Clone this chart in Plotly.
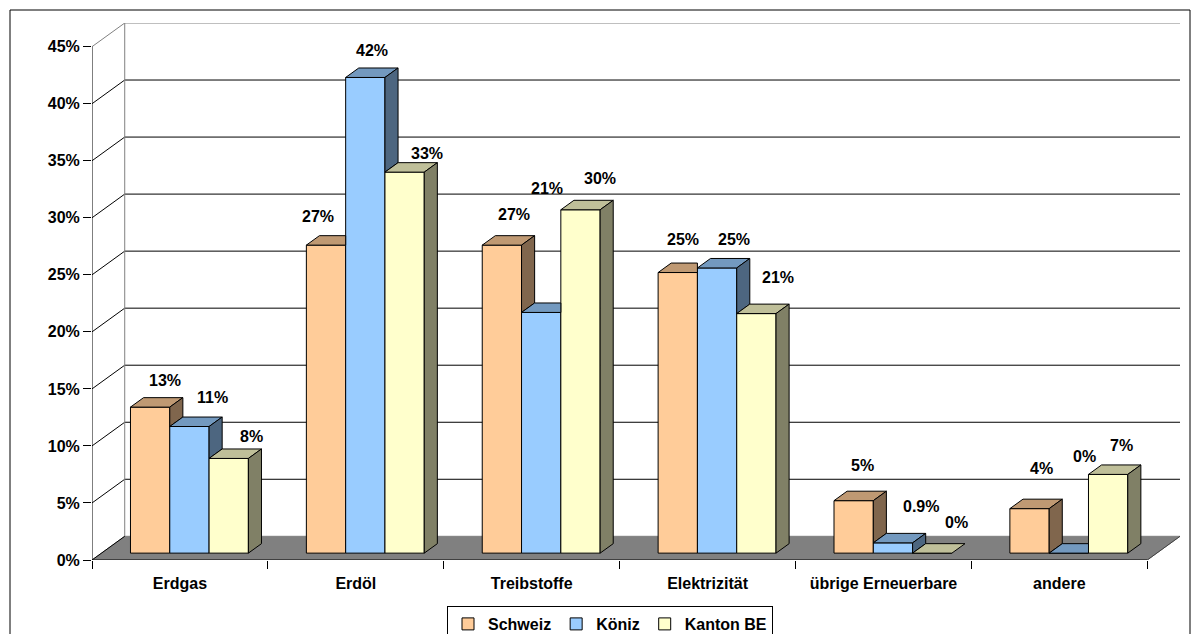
import plotly.graph_objects as go

# ---- data -------------------------------------------------------------
categories = ["Erdgas", "Erdöl", "Treibstoffe", "Elektrizität",
              "übrige Erneuerbare", "andere"]
series_names = ["Schweiz", "Köniz", "Kanton BE"]
schweiz = [12.8, 27.0, 27.0, 24.6, 4.6, 3.9]
koeniz = [11.1, 41.7, 21.1, 25.0, 0.9, 0.0]
kanton_be = [8.3, 33.4, 30.1, 21.0, 0.0, 6.9]
y_ticks = [0, 5, 10, 15, 20, 25, 30, 35, 40, 45]
y_tick_labels = [f"{v}%" for v in y_ticks]

series_values = [schweiz, koeniz, kanton_be]

# ---- styling ----------------------------------------------------------
front_colors = ["#FFCC99", "#99CCFF", "#FFFFCC"]
top_colors = ["#BF9973", "#7399BF", "#BFBF99"]
side_colors = ["#80664D", "#4D6680", "#808066"]
FONT = "Liberation Sans, Arial, sans-serif"
FS = 16

# pixel offsets (dx, dy) of each value label from its bar's front top centre
label_offsets = [
    [(15, 27), (-8, 29), (12, 31), (5, 33), (9, 35), (12, 40)],
    [(23, 29), (7, 27), (6, 124), (17, 28), (28, 36), (16, 97)],
    [(23, 22), (22, 19), (20, 31), (22, 36), (24, 31), (13, 29)],
]

# ---- geometry of the oblique 3-D frame --------------------------------
W, H = 1197, 634
M_L, M_R, M_T, M_B = 92, 17, 23, 74
plot_w = W - M_L - M_R
plot_h = H - M_T - M_B
px_x = 175.88          # pixels per category
px_y = 11.407          # pixels per percent
DX = plot_w / px_x - len(categories)   # depth shift in x units
DY = plot_h / px_y - 45                # depth shift in y units
F1, F2 = 0.29, 0.69                    # bar depth (front / back) in the box
BAR_W = 39.3 / px_x
n_cat = len(categories)

base = F1 * DY
sx = (F2 - F1) * DX
sy = (F2 - F1) * DY


def bar_center(i, j):
    return i + 0.5 + (j - 1) * BAR_W + F1 * DX


def fmt(v):
    return f"{v:.1f}%" if 0 < v < 1 else f"{v:.0f}%"


fig = go.Figure()

# front faces of the columns
for j, name in enumerate(series_names):
    fig.add_trace(go.Bar(
        name=name,
        x=[bar_center(i, j) for i in range(n_cat)],
        y=series_values[j],
        base=base,
        width=BAR_W,
        marker=dict(color=front_colors[j], line=dict(color="black", width=1)),
        hoverinfo="skip",
    ))

# top and side faces, trimmed where the neighbouring column hides them
for j in range(len(series_names)):
    tx, ty, qx, qy = [], [], [], []
    for i in range(n_cat):
        v = series_values[j][i]
        xl = bar_center(i, j) - BAR_W / 2
        xr = xl + BAR_W
        top = base + v
        nxt = series_values[j + 1][i] if j + 1 < len(series_names) else None
        if nxt is not None and nxt > v:
            tx += [xl, xr, xr, xl + sx, xl, None]
            ty += [top, top, top + sy, top + sy, top, None]
        else:
            tx += [xl, xr, xr + sx, xl + sx, xl, None]
            ty += [top, top, top + sy, top + sy, top, None]
            lo = base + (nxt if nxt is not None else 0)
            if v > 0:
                qx += [xr, xr, xr + sx, xr + sx, xr, None]
                qy += [lo, top, top + sy, lo + sy, lo, None]
    fig.add_trace(go.Scatter(x=tx, y=ty, mode="lines", fill="toself",
                             fillcolor=top_colors[j],
                             line=dict(color="black", width=1),
                             showlegend=False, hoverinfo="skip"))
    if qx:
        fig.add_trace(go.Scatter(x=qx, y=qy, mode="lines", fill="toself",
                                 fillcolor=side_colors[j],
                                 line=dict(color="black", width=1),
                                 showlegend=False, hoverinfo="skip"))

# value labels
for j in range(len(series_names)):
    for i in range(n_cat):
        v = series_values[j][i]
        dx, dy = label_offsets[j][i]
        fig.add_annotation(x=bar_center(i, j), y=base + v, text=fmt(v),
                           xshift=dx, yshift=dy, showarrow=False,
                           xanchor="center", yanchor="middle",
                           font=dict(family=FONT, size=FS, color="black",
                                     weight="bold"))

# walls, floor and gridlines
shapes = []
shapes.append(dict(type="path", layer="below",
                   path=f"M0,0 L{n_cat},0 L{n_cat + DX},{DY} L{DX},{DY} Z",
                   fillcolor="#808080", line=dict(color="#808080", width=1)))
for v in y_ticks[1:]:
    col = "#808080" if v == y_ticks[-1] else "#000000"
    shapes.append(dict(type="line", layer="below", x0=0, y0=v, x1=DX, y1=v + DY,
                       line=dict(color=col, width=1)))
    shapes.append(dict(type="line", layer="below", x0=DX, y0=v + DY,
                       x1=n_cat + DX, y1=v + DY, line=dict(color=col, width=1)))
shapes.append(dict(type="line", layer="below", x0=DX, y0=DY, x1=DX,
                   y1=y_ticks[-1] + DY, line=dict(color="#808080", width=1)))
shapes.append(dict(type="line", layer="below", x0=0, y0=0, x1=DX, y1=DY,
                   line=dict(color="#000000", width=1)))
shapes.append(dict(type="line", layer="below", x0=n_cat, y0=0, x1=n_cat + DX,
                   y1=DY, line=dict(color="#404040", width=1)))
# front axes
shapes.append(dict(type="line", layer="above", x0=0, y0=0, x1=0,
                   y1=y_ticks[-1], line=dict(color="black", width=1)))
shapes.append(dict(type="line", layer="above", x0=0, y0=0, x1=n_cat, y1=0,
                   line=dict(color="black", width=1)))
# chart border
shapes.append(dict(type="rect", xref="paper", yref="paper",
                   x0=(10 - M_L) / plot_w, x1=(1190 - M_L) / plot_w,
                   y0=-(H + 20 - M_T - plot_h) / plot_h,
                   y1=(M_T + plot_h - 10) / plot_h,
                   line=dict(color="black", width=1)))

fig.update_layout(
    width=W, height=H,
    margin=dict(l=M_L, r=M_R, t=M_T, b=M_B, autoexpand=False),
    paper_bgcolor="white", plot_bgcolor="white",
    barmode="overlay",
    shapes=shapes,
    showlegend=True,
    legend=dict(orientation="h", x=(610 - M_L) / plot_w, xanchor="center",
                y=-(606 - M_T - plot_h) / plot_h, yanchor="top",
                bordercolor="black", borderwidth=1, bgcolor="white",
                font=dict(family=FONT, size=FS, color="black", weight="bold"),
                itemwidth=30, tracegroupgap=0),
    font=dict(family=FONT, size=FS, color="black"),
)

fig.update_xaxes(
    range=[0, n_cat + DX], showgrid=False, zeroline=False, showline=False,
    automargin=False,
    tickmode="array", tickvals=[i + 0.5 for i in range(n_cat)],
    ticktext=categories, ticks="outside", ticklen=9,
    tickcolor="rgba(0,0,0,0)",
    tickfont=dict(family=FONT, size=FS, color="black", weight="bold"),
    minor=dict(tickmode="array", tickvals=list(range(n_cat + 1)),
               ticks="outside", ticklen=8, tickcolor="black", showgrid=False),
    fixedrange=True,
)
fig.update_yaxes(
    range=[0, 45 + DY], showgrid=False, zeroline=False, showline=False,
    automargin=False,
    tickmode="array", tickvals=y_ticks, ticktext=y_tick_labels,
    ticks="outside", ticklen=8, tickcolor="black",
    tickfont=dict(family=FONT, size=FS, color="black", weight="bold"),
    fixedrange=True,
)

fig.write_html("out.html")
